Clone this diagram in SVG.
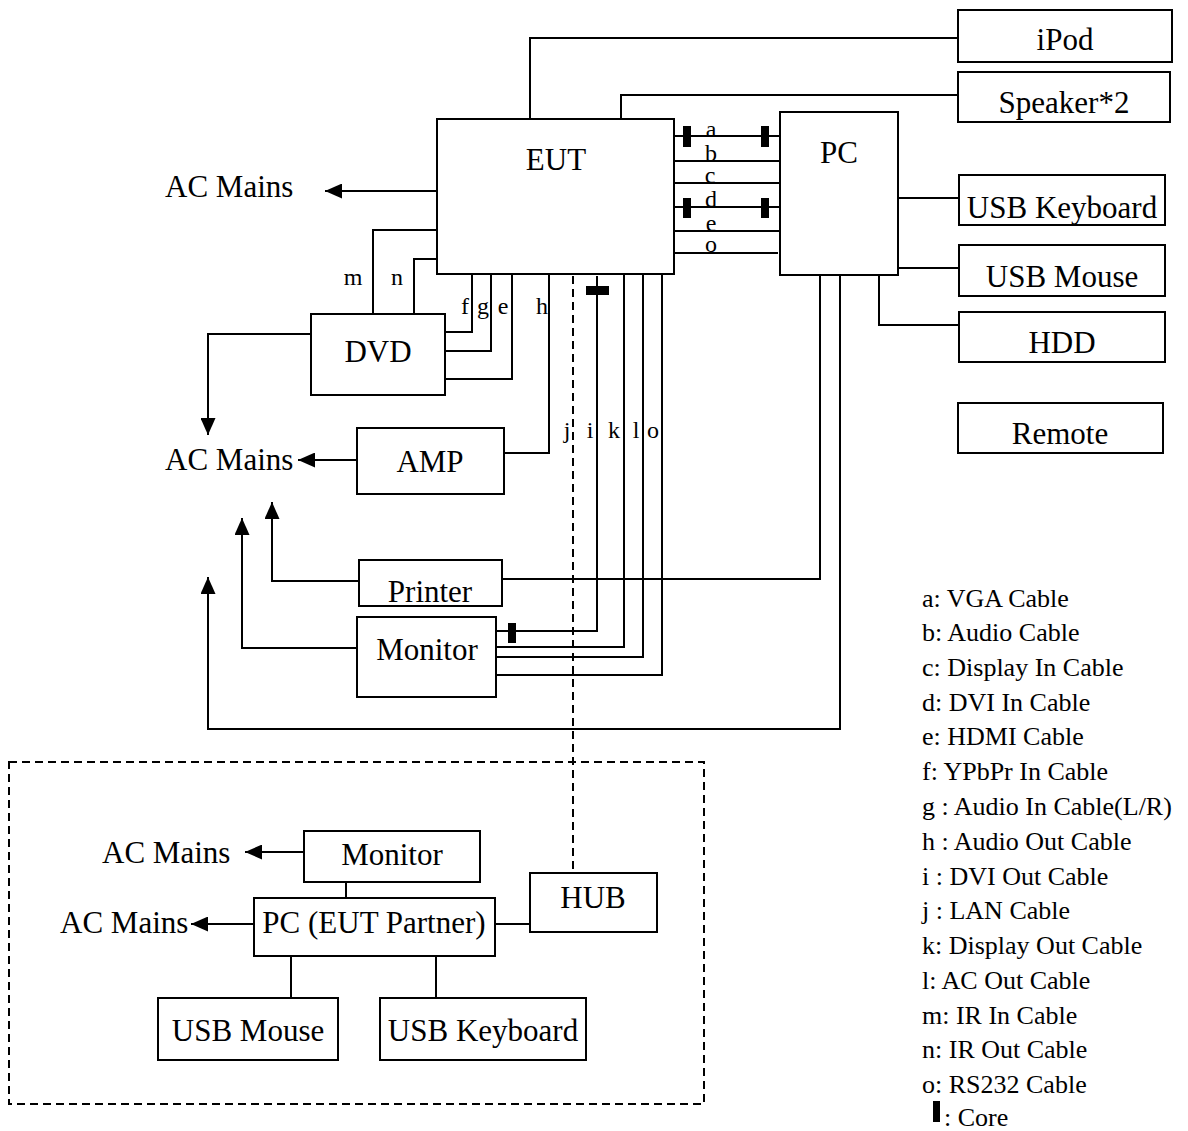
<svg xmlns="http://www.w3.org/2000/svg" width="1188" height="1131" viewBox="0 0 1188 1131">
<defs>
<marker id="arr" markerUnits="userSpaceOnUse" markerWidth="17" markerHeight="15" viewBox="0 0 17 15" refX="17" refY="7.5" orient="auto">
<path d="M0,0 L17,7.5 L0,15 z" fill="#000"/>
</marker>
<style>
.box{fill:#fff;stroke:#000;stroke-width:2}
.ln{fill:none;stroke:#000;stroke-width:2}
.ar{fill:none;stroke:#000;stroke-width:2;marker-end:url(#arr)}
.dash{fill:none;stroke:#000;stroke-width:2;stroke-dasharray:8,5}
.core{fill:#000}
text{font-family:"Liberation Serif","Times New Roman",serif;fill:#000}
.t{font-size:31px;text-anchor:middle}
.ac{font-size:31px}
.lb{font-size:24px;text-anchor:middle}
.lg{font-size:26px}
</style>
</defs>
<rect width="1188" height="1131" fill="#fff"/>

<g id="connectors">
<polyline class="ln" points="530,119 530,38 958,38"/>
<polyline class="ln" points="621,119 621,95 958,95"/>
<line class="ln" x1="674" y1="136" x2="780" y2="136"/>
<line class="ln" x1="673" y1="161" x2="780" y2="161"/>
<line class="ln" x1="674" y1="183" x2="780" y2="183"/>
<line class="ln" x1="674" y1="207" x2="780" y2="207"/>
<line class="ln" x1="674" y1="231" x2="780" y2="231"/>
<line class="ln" x1="672" y1="253" x2="778" y2="253"/>
<rect class="core" x="683" y="126" width="8" height="21"/>
<rect class="core" x="761" y="126" width="8" height="21"/>
<rect class="core" x="683" y="198" width="8" height="20"/>
<rect class="core" x="761" y="198" width="8" height="20"/>
<polyline class="ln" points="373,314 373,230 437,230"/>
<polyline class="ln" points="414,314 414,259 437,259"/>
<polyline class="ln" points="472,274 472,332 445,332"/>
<polyline class="ln" points="491,274 491,351 445,351"/>
<polyline class="ln" points="512,274 512,379 445,379"/>
<polyline class="ln" points="549,274 549,453 504,453"/>
<line class="dash" x1="573" y1="276" x2="573" y2="873"/>
<polyline class="ln" points="597,276 597,631 496,631"/>
<rect class="core" x="586" y="286" width="23" height="9"/>
<rect class="core" x="508" y="623" width="8" height="20"/>
<polyline class="ln" points="624,274 624,647 496,647"/>
<polyline class="ln" points="643,272 643,657 496,657"/>
<polyline class="ln" points="662,274 662,675 496,675"/>
<polyline class="ln" points="820,275 820,579 502,579"/>
<polyline class="ar" points="359,581 272,581 272,502"/>
<polyline class="ar" points="357,648 242,648 242,518"/>
<polyline class="ar" points="840,275 840,729 208,729 208,577"/>
<polyline class="ar" points="311,334 208,334 208,435"/>
<line class="ar" x1="357" y1="460" x2="298" y2="460"/>
<line class="ar" x1="437" y1="191" x2="325" y2="191"/>
<line class="ln" x1="898" y1="198" x2="959" y2="198"/>
<line class="ln" x1="898" y1="268" x2="959" y2="268"/>
<polyline class="ln" points="879,275 879,325 959,325"/>
<line class="ar" x1="304" y1="852" x2="245" y2="852"/>
<line class="ar" x1="254" y1="924" x2="191" y2="924"/>
<line class="ln" x1="346" y1="882" x2="346" y2="898"/>
<line class="ln" x1="495" y1="924" x2="530" y2="924"/>
<line class="ln" x1="291" y1="956" x2="291" y2="998"/>
<line class="ln" x1="436" y1="956" x2="436" y2="998"/>
<text class="lb" x="711" y="137">a</text>
<text class="lb" x="711" y="161">b</text>
<text class="lb" x="710" y="183">c</text>
<text class="lb" x="711" y="207">d</text>
<text class="lb" x="711" y="231">e</text>
<text class="lb" x="711" y="252">o</text>
<text class="lb" x="353" y="285">m</text>
<text class="lb" x="397" y="285">n</text>
<text class="lb" x="465" y="314">f</text>
<text class="lb" x="483" y="314">g</text>
<text class="lb" x="503" y="314">e</text>
<text class="lb" x="542" y="314">h</text>
<text class="lb" x="567" y="438">j</text>
<text class="lb" x="590" y="438">i</text>
<text class="lb" x="614" y="438">k</text>
<text class="lb" x="636" y="438">l</text>
<text class="lb" x="653" y="438">o</text>
</g>

<g id="ipod"><rect class="box" x="958" y="10" width="214" height="52"/><text class="t" x="1065" y="50">iPod</text></g>
<g id="speaker"><rect class="box" x="958" y="72" width="212" height="50"/><text class="t" x="1064" y="113">Speaker*2</text></g>
<g id="eut"><rect class="box" x="437" y="119" width="237" height="155"/><text class="t" x="556" y="170">EUT</text></g>
<g id="pc"><rect class="box" x="780" y="112" width="118" height="163"/><text class="t" x="839" y="163">PC</text></g>
<g id="usb-keyboard"><rect class="box" x="959" y="175" width="206" height="50"/><text class="t" x="1062" y="218">USB Keyboard</text></g>
<g id="usb-mouse"><rect class="box" x="959" y="245" width="206" height="51"/><text class="t" x="1062" y="287">USB Mouse</text></g>
<g id="hdd"><rect class="box" x="959" y="312" width="206" height="50"/><text class="t" x="1062" y="353">HDD</text></g>
<g id="remote"><rect class="box" x="958" y="403" width="205" height="50"/><text class="t" x="1060" y="444">Remote</text></g>
<g id="dvd"><rect class="box" x="311" y="314" width="134" height="81"/><text class="t" x="378" y="362">DVD</text></g>
<g id="amp"><rect class="box" x="357" y="428" width="147" height="66"/><text class="t" x="430" y="472">AMP</text></g>
<g id="printer"><rect class="box" x="359" y="560" width="143" height="46"/><text class="t" x="430" y="602">Printer</text></g>
<g id="monitor"><rect class="box" x="357" y="617" width="139" height="80"/><text class="t" x="427" y="660">Monitor</text></g>
<g id="ac-mains-1"><text class="ac" x="165" y="197">AC Mains</text></g>
<g id="ac-mains-2"><text class="ac" x="165" y="470">AC Mains</text></g>

<g id="partner-area"><rect x="9" y="762" width="695" height="342" class="dash"/></g>
<g id="monitor2"><rect class="box" x="304" y="831" width="176" height="51"/><text class="t" x="392" y="865">Monitor</text></g>
<g id="pc-partner"><rect class="box" x="254" y="898" width="241" height="58"/><text class="t" x="374" y="933">PC (EUT Partner)</text></g>
<g id="hub"><rect class="box" x="530" y="873" width="127" height="59"/><text class="t" x="593" y="908">HUB</text></g>
<g id="usb-mouse2"><rect class="box" x="158" y="998" width="180" height="62"/><text class="t" x="248" y="1041">USB Mouse</text></g>
<g id="usb-keyboard2"><rect class="box" x="380" y="998" width="206" height="62"/><text class="t" x="483" y="1041">USB Keyboard</text></g>
<g id="ac-mains-3"><text class="ac" x="102" y="863">AC Mains</text></g>
<g id="ac-mains-4"><text class="ac" x="60" y="933">AC Mains</text></g>

<g id="legend">
<text class="lg" x="922" y="607">a: VGA Cable</text>
<text class="lg" x="922" y="641">b: Audio Cable</text>
<text class="lg" x="922" y="676">c: Display In Cable</text>
<text class="lg" x="922" y="711">d: DVI In Cable</text>
<text class="lg" x="922" y="745">e: HDMI Cable</text>
<text class="lg" x="922" y="780">f: YPbPr In Cable</text>
<text class="lg" x="922" y="815">g : Audio In Cable(L/R)</text>
<text class="lg" x="922" y="850">h : Audio Out Cable</text>
<text class="lg" x="922" y="885">i : DVI Out Cable</text>
<text class="lg" x="922" y="919">j : LAN Cable</text>
<text class="lg" x="922" y="954">k: Display Out Cable</text>
<text class="lg" x="922" y="989">l: AC Out Cable</text>
<text class="lg" x="922" y="1024">m: IR In Cable</text>
<text class="lg" x="922" y="1058">n: IR Out Cable</text>
<text class="lg" x="922" y="1093">o: RS232 Cable</text>
<rect class="core" x="933" y="1101" width="7" height="21"/>
<text class="lg" x="944" y="1126">: Core</text>
</g>
</svg>
